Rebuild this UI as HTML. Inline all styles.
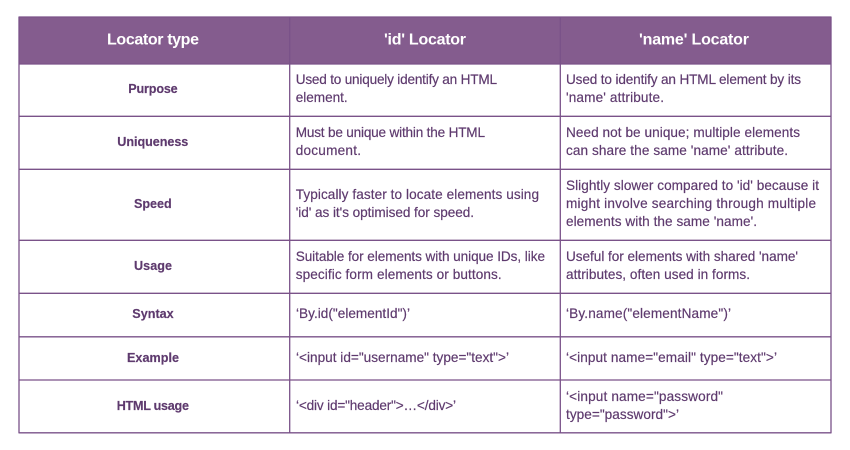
<!DOCTYPE html>
<html><head><meta charset="utf-8"><style>
html,body{margin:0;padding:0;background:#fff;width:850px;height:450px;overflow:hidden}
svg{display:block}
text{font-family:"Liberation Sans",sans-serif;font-size:13.6px;fill:#5e3a6e;stroke:#5e3a6e;stroke-width:.18px}
.b{font-weight:bold;font-size:12.6px;fill:#5e3a6e}
.h{font-weight:bold;font-size:16px;fill:#fff;stroke:none}
line{stroke:#7a5289;stroke-width:1.3}
</style></head><body>
<svg width="850" height="450" viewBox="0 0 850 450" xmlns="http://www.w3.org/2000/svg">
<rect x="19" y="17" width="812" height="47" fill="#845c8e"/>
<g>
<line x1="18.5" y1="17" x2="831.5" y2="17"/>
<line x1="18.5" y1="64" x2="831.5" y2="64"/>
<line x1="18.5" y1="116.3" x2="831.5" y2="116.3"/>
<line x1="18.5" y1="169.3" x2="831.5" y2="169.3"/>
<line x1="18.5" y1="240.3" x2="831.5" y2="240.3"/>
<line x1="18.5" y1="293.3" x2="831.5" y2="293.3"/>
<line x1="18.5" y1="336.8" x2="831.5" y2="336.8"/>
<line x1="18.5" y1="380" x2="831.5" y2="380"/>
<line x1="18.5" y1="432.8" x2="831.5" y2="432.8"/>
<line x1="19" y1="17" x2="19" y2="433"/>
<line x1="289.7" y1="17" x2="289.7" y2="433"/>
<line x1="560.3" y1="17" x2="560.3" y2="433"/>
<line x1="831" y1="17" x2="831" y2="433"/>
</g>
<text class="h" x="107" y="44.5" textLength="92" lengthAdjust="spacing">Locator type</text>
<text class="h" x="384" y="44.5" textLength="82" lengthAdjust="spacing">'id' Locator</text>
<text class="h" x="639" y="44.5" textLength="110" lengthAdjust="spacing">'name' Locator</text>

<text class="b" x="128.3" y="93" textLength="49.4" lengthAdjust="spacing">Purpose</text>
<text class="b" x="117.3" y="146" textLength="71" lengthAdjust="spacing">Uniqueness</text>
<text class="b" x="134" y="208" textLength="37.7" lengthAdjust="spacing">Speed</text>
<text class="b" x="134" y="270" textLength="38" lengthAdjust="spacing">Usage</text>
<text class="b" x="132.3" y="318" textLength="41.4" lengthAdjust="spacing">Syntax</text>
<text class="b" x="127" y="362" textLength="52" lengthAdjust="spacing">Example</text>
<text class="b" x="116.7" y="410" textLength="72.3" lengthAdjust="spacing">HTML usage</text>

<text x="295.7" y="84" textLength="201.3" lengthAdjust="spacing">Used to uniquely identify an HTML</text>
<text x="295.7" y="102" textLength="52" lengthAdjust="spacing">element.</text>
<text x="295.7" y="137" textLength="189.3" lengthAdjust="spacing">Must be unique within the HTML</text>
<text x="295.7" y="155" textLength="65.3" lengthAdjust="spacing">document.</text>
<text x="295.7" y="199" textLength="243.3" lengthAdjust="spacing">Typically faster to locate elements using</text>
<text x="295.7" y="217" textLength="178.3" lengthAdjust="spacing">'id' as it's optimised for speed.</text>
<text x="295.7" y="261" textLength="249.3" lengthAdjust="spacing">Suitable for elements with unique IDs, like</text>
<text x="295.7" y="279" textLength="206" lengthAdjust="spacing">specific form elements or buttons.</text>
<text x="296" y="318" textLength="114" lengthAdjust="spacing">‘By.id("elementId")’</text>
<text x="296" y="362" textLength="213" lengthAdjust="spacing">‘&lt;input id="username" type="text"&gt;’</text>
<text x="296" y="410" textLength="160" lengthAdjust="spacing">‘&lt;div id="header"&gt;…&lt;/div&gt;’</text>

<text x="566" y="84" textLength="235" lengthAdjust="spacing">Used to identify an HTML element by its</text>
<text x="566" y="102" textLength="98" lengthAdjust="spacing">'name' attribute.</text>
<text x="566" y="137" textLength="234" lengthAdjust="spacing">Need not be unique; multiple elements</text>
<text x="566" y="155" textLength="222" lengthAdjust="spacing">can share the same 'name' attribute.</text>
<text x="566" y="190" textLength="253" lengthAdjust="spacing">Slightly slower compared to 'id' because it</text>
<text x="566" y="208" textLength="250" lengthAdjust="spacing">might involve searching through multiple</text>
<text x="566" y="226" textLength="191" lengthAdjust="spacing">elements with the same 'name'.</text>
<text x="566" y="261" textLength="232" lengthAdjust="spacing">Useful for elements with shared 'name'</text>
<text x="566" y="279" textLength="184" lengthAdjust="spacing">attributes, often used in forms.</text>
<text x="566" y="318" textLength="165" lengthAdjust="spacing">‘By.name("elementName")’</text>
<text x="566" y="362" textLength="211" lengthAdjust="spacing">‘&lt;input name="email" type="text"&gt;’</text>
<text x="566" y="401" textLength="157" lengthAdjust="spacing">‘&lt;input name="password"</text>
<text x="566" y="419" textLength="113" lengthAdjust="spacing">type="password"&gt;’</text>
</svg>
</body></html>
